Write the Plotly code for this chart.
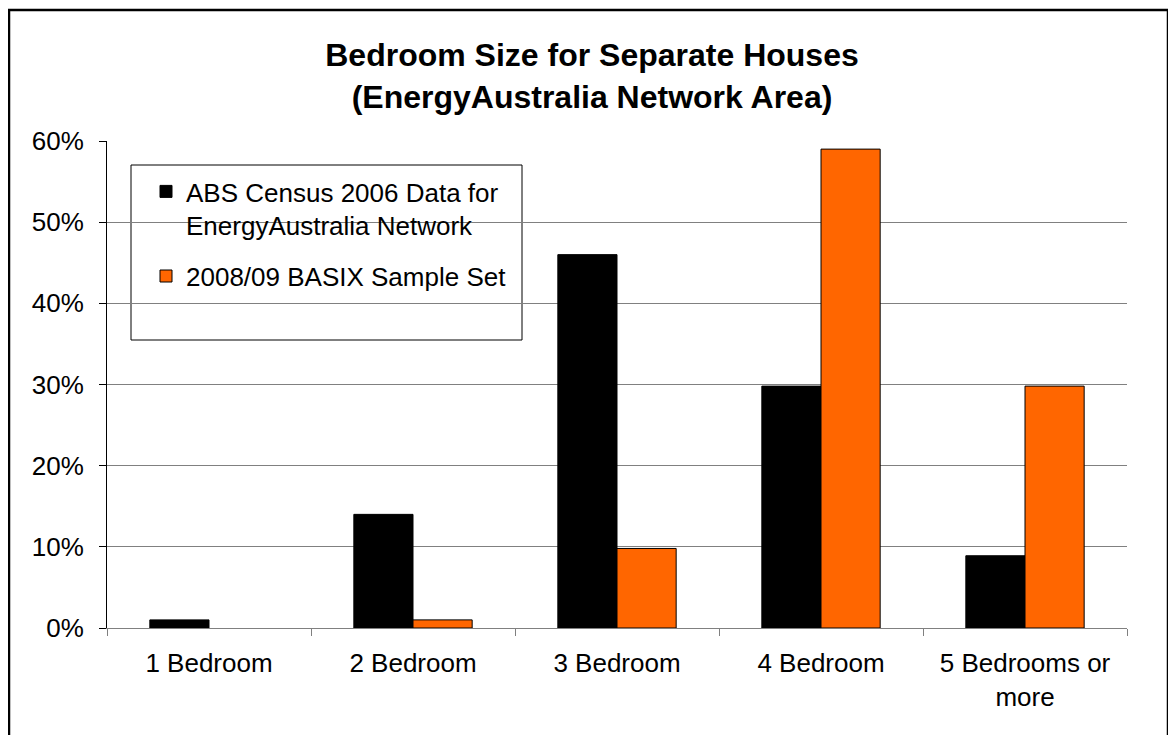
import plotly.graph_objects as go

categories = ["1 Bedroom", "2 Bedroom", "3 Bedroom", "4 Bedroom", "5 Bedrooms or<br>more"]
abs_census = [0.010, 0.140, 0.460, 0.298, 0.089]
basix = [None, 0.010, 0.098, 0.590, 0.298]
series_names = ["ABS Census 2006 Data for<br>EnergyAustralia Network", "2008/09 BASIX Sample Set"]
ytick_vals = [0, 0.1, 0.2, 0.3, 0.4, 0.5, 0.6]
ytick_text = ["0%", "10%", "20%", "30%", "40%", "50%", "60%"]

OFF = 8  # page body margin
W, H = 1176 - OFF, 735 - OFF
L, R, T, B = 107 - OFF, 49, 141 - OFF, 107
pw, ph = W - L - R, H - T - B

def px_x(x):
    return (x - OFF - L) / pw

def px_y(y):
    return (H - B - (y - OFF)) / ph

FONT = "Liberation Sans, Arial, sans-serif"

fig = go.Figure()
fig.add_trace(go.Bar(x=categories, y=abs_census, name=series_names[0],
                     marker=dict(color="#000000", line=dict(color="#000000", width=1)),
                     legendgroup="a"))
fig.add_trace(go.Bar(x=categories, y=basix, name=series_names[1],
                     marker=dict(color="#FF6600", line=dict(color="#000000", width=1)),
                     legendgroup="b"))

fig.update_layout(
    width=W, height=H,
    margin=dict(l=L, r=R, t=T, b=B),
    paper_bgcolor="white", plot_bgcolor="white",
    barmode="group", bargap=0.42, bargroupgap=0,
    font=dict(family=FONT, size=26, color="black"),
    title=dict(text="<b>Bedroom Size for Separate Houses<br>(EnergyAustralia Network Area)</b>",
               x=(592 - OFF) / W, xanchor="center", y=1 - 58 / H, yanchor="top",
               font=dict(family=FONT, size=32, color="black")),
    showlegend=True,
    legend=dict(x=px_x(146), y=px_y(168), xanchor="left", yanchor="top",
                bgcolor="rgba(0,0,0,0)", borderwidth=0, valign="top",
                font=dict(family=FONT, size=26, color="black"),
                tracegroupgap=14, traceorder="grouped"),
    xaxis=dict(type="category", tickson="boundaries", ticks="outside", ticklen=7,
               tickcolor="#808080", showline=True, linecolor="#808080", linewidth=1,
               showgrid=False, ticklabelstandoff=12, tickfont=dict(size=26, family=FONT)),
    yaxis=dict(range=[0, 0.6], tickvals=ytick_vals, ticktext=ytick_text,
               ticks="outside", ticklen=7, tickcolor="#000000",
               showline=True, linecolor="#000000", linewidth=1,
               showgrid=True, gridcolor="#808080", gridwidth=1,
               zeroline=False, ticklabelstandoff=10, tickfont=dict(size=26, family=FONT)),
    shapes=[
        dict(type="rect", xref="paper", yref="paper",
             x0=px_x(131), x1=px_x(522), y0=px_y(340), y1=px_y(165),
             line=dict(color="#000000", width=1), fillcolor="white", layer="below"),
        dict(type="rect", xref="paper", yref="paper",
             x0=px_x(9), x1=px_x(1168), y0=px_y(760), y1=px_y(10),
             line=dict(color="#000000", width=2.5), fillcolor="rgba(0,0,0,0)"),
    ],
)

fig.write_html("out.html")
